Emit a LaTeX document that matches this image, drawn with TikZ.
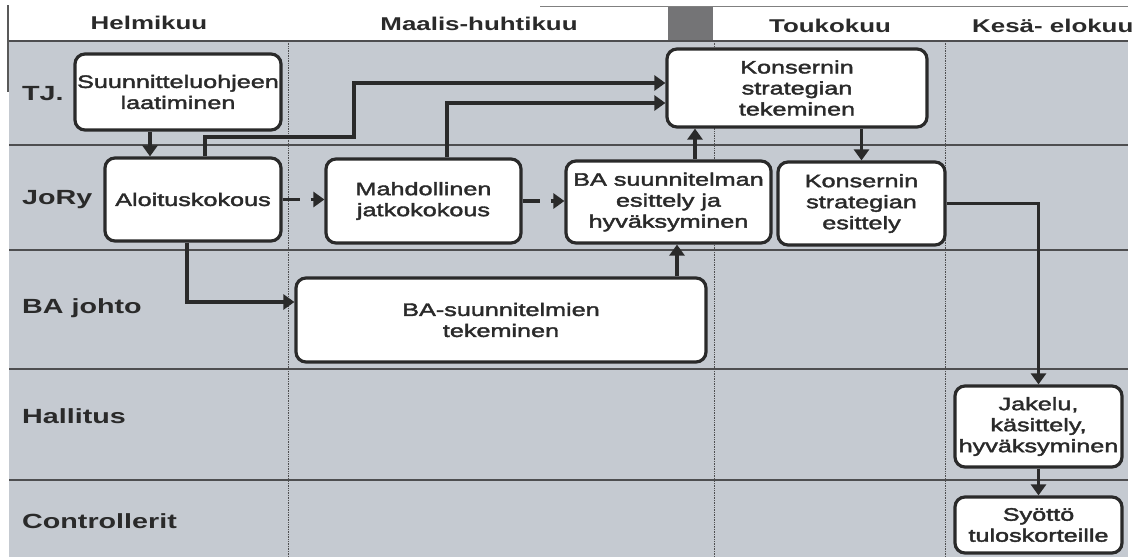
\documentclass[tikz,border=0pt]{standalone}
\usepackage{fontspec}
\setmainfont{Liberation Sans}[FakeStretch=1.4]
\newfontfamily\taskfont{Liberation Sans}[FakeStretch=1.4, FakeBold=2.2]
\usetikzlibrary{arrows.meta}
\definecolor{lanegray}{RGB}{197,202,209}
\definecolor{ink}{RGB}{42,42,42}
\definecolor{gridline}{RGB}{78,78,80}
\definecolor{blockgray}{RGB}{116,116,118}
\tikzset{
  task/.style={draw=ink, line width=3.2pt, fill=white, rounded corners=10pt,
    align=center, inner sep=0pt, text=ink, font=\taskfont\fontsize{18}{21}\selectfont},
  conn/.style={draw=ink, line width=3.2pt, -{Triangle[length=11pt,width=15pt]}},
  splitconn/.style={conn, dash pattern=on 17pt off 11pt on 60pt},
  lanelabel/.style={anchor=base west, inner sep=0pt, text=ink,
    font=\bfseries\fontsize{20.5}{24}\selectfont},
  month/.style={anchor=base, inner sep=0pt, text=ink,
    font=\bfseries\fontsize{18.5}{22}\selectfont},
  laneline/.style={draw=gridline, line width=1.2pt},
  colline/.style={draw=gridline, line width=0.7pt, densely dotted}
}
\begin{document}
\begin{tikzpicture}[x=1pt,y=-1pt]
\useasboundingbox (0,0) rectangle (1132,557);
\fill[white] (0,0) rectangle (1132,557);

% lanes and columns
\fill[lanegray] (9,41) rectangle (1128,557);
\fill[blockgray] (668,7) rectangle (713,42);
\draw[gray, line width=0.8pt] (540,6) -- (1128,6);
\draw[gray!70!black, line width=1.5pt] (8,5) -- (8,92);
\foreach \y in {41,145,250,369,480} \draw[laneline] (9,\y) -- (1128,\y);
\foreach \x in {288,714,945} \draw[colline] (\x,41) -- (\x,557);

% month headings
\node[month] (m1) at (149,29) {Helmikuu};
\node[month] (m2) at (479,30) {Maalis-huhtikuu};
\node[month] (m3) at (830,32) {Toukokuu};
\node[month, anchor=base west] (m4) at (972,32) {Kesä- elokuu};

% lane headings
\node[lanelabel] (l1) at (22,100) {TJ.};
\node[lanelabel] (l2) at (22,204) {JoRy};
\node[lanelabel] (l3) at (22,313) {BA johto};
\node[lanelabel] (l4) at (22,423) {Hallitus};
\node[lanelabel] (l5) at (22,528) {Controllerit};

% tasks
\node[task, minimum width=206pt, minimum height=76pt] (suun) at (178,92) {Suunnitteluohjeen\\laatiminen};
\node[task, minimum width=176pt, minimum height=83pt] (alo) at (193,199.5) {Aloituskokous};
\node[task, minimum width=195pt, minimum height=84pt] (mah) at (423.5,201) {Mahdollinen\\jatkokokous};
\node[task, minimum width=205pt, minimum height=82pt] (bas) at (668.5,202) {BA suunnitelman\\esittely ja\\hyväksyminen};
\node[task, minimum width=260pt, minimum height=78pt] (kst) at (797,88) {Konsernin\\strategian\\tekeminen};
\node[task, minimum width=167pt, minimum height=83pt] (kes) at (861.5,203.5) {Konsernin\\strategian\\esittely};
\node[task, minimum width=410pt, minimum height=84pt] (bat) at (501,320) {BA-suunnitelmien\\tekeminen};
\node[task, minimum width=167pt, minimum height=81pt] (jak) at (1038.5,426.5) {Jakelu,\\käsittely,\\hyväksyminen};
\node[task, minimum width=167pt, minimum height=56pt] (syo) at (1038.5,525) {Syöttö\\tuloskorteille};

% flow
\coordinate (j1) at (354,137);
\draw[conn] ([xshift=-28pt]suun.south) -- ([xshift=-28pt]suun.south |- alo.north);
\draw[conn] ([xshift=12pt]alo.north) |- (j1) |- ([yshift=5pt]kst.west);
\draw[conn] ([xshift=23.5pt]mah.north) |- ([yshift=-15pt]kst.west);
\draw[splitconn] (alo.east) -- (alo.east -| mah.west);
\draw[splitconn] (mah.east) -- (mah.east -| bas.west);
\draw[conn] ([xshift=-6pt]alo.south) |- ([yshift=18pt]bat.west);
\draw[conn] ([xshift=176pt]bat.north) -- ([xshift=176pt]bat.north |- bas.south);
\draw[conn] ([xshift=26.5pt]bas.north) -- ([xshift=26.5pt]bas.north |- kst.south);
\draw[conn] (kst.south -| kes.north) -- (kes.north);
\draw[conn] (kes.east) -| (jak.north);
\draw[conn] (jak.south) -- (syo.north);
\end{tikzpicture}
\end{document}
